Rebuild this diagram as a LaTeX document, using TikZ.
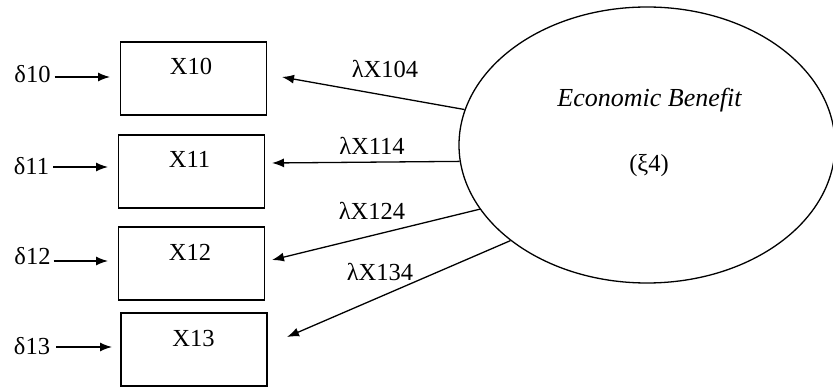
\documentclass[tikz,border=0pt]{standalone}
\usepackage{fontspec}
\setmainfont{Liberation Serif}
\usetikzlibrary{shapes,arrows.meta,calc,positioning}

\begin{document}
\begin{tikzpicture}[x=1pt,y=-1pt]
	\tikzstyle{indicator} = [draw,line width=1.6pt,minimum width=146pt,minimum height=73pt,inner sep=0pt]
	\tikzstyle{latent} = [draw,ellipse,line width=1.3pt,minimum width=376pt,minimum height=276pt,inner sep=0pt]
	\tikzstyle{load} = [-{Latex[length=12pt,width=9pt]},line width=1.3pt]
	\tikzstyle{txt} = [font=\fontsize{24.5}{28}\selectfont,inner sep=0pt,anchor=base]
	\useasboundingbox (0,0) rectangle (833,387);
	% Indicators
	\node[indicator] at (193.5,78.5)(x10) {};
	\node[indicator] at (191.5,171.5)(x11) {};
	\node[indicator] at (191.5,263.5)(x12) {};
	\node[indicator] at (194,349.5)(x13) {};
	\node[txt] at (191,75)(lx10) {X10};
	\node[txt] at (189.5,168)(lx11) {X11};
	\node[txt] at (190,261)(lx12) {X12};
	\node[txt] at (193.5,347)(lx13) {X13};
	% Errors
	\node[txt] at (32.5,83)(d10) {δ10};
	\node[txt] at (31.5,175)(d11) {δ11};
	\node[txt] at (32.5,265)(d12) {δ12};
	\node[txt] at (32,355)(d13) {δ13};
	\coordinate (e10) at (110,77);
	\coordinate (e11) at (108,167);
	\coordinate (e12) at (108,261);
	\coordinate (e13) at (112,347);
	\draw[load,shorten <=4pt] (d10.east |- e10) -- (e10);
	\draw[load,shorten <=4pt] (d11.east |- e11) -- (e11);
	\draw[load,shorten <=3pt] (d12.east |- e12) -- (e12);
	\draw[load,shorten <=6pt] (d13.east |- e13) -- (e13);
	% Latent
	\node[latent] at (647,145)(xi4) {};
	\node[txt,font=\fontsize{26}{30}\selectfont\itshape] at (649.5,107)(lxi4) {Economic Benefit};
	\node[txt] at (649,171.5)(sxi4) {(ξ4)};
	% Loadings
	\coordinate (t10) at (282,77);
	\coordinate (t11) at (272,163);
	\coordinate (t12) at (272,260);
	\coordinate (t13) at (287,337);
	\draw[load] (xi4.169) -- (t10);
	\draw[load] (xi4.185) -- (t11);
	\draw[load] (xi4.201) -- (t12);
	\draw[load] (xi4.215) -- (t13);
	\node[txt] at (385,78)(l104) {λX104};
	\node[txt] at (372,155)(l114) {λX114};
	\node[txt] at (372,220)(l124) {λX124};
	\node[txt] at (380,281)(l134) {λX134};
\end{tikzpicture}
\end{document}
